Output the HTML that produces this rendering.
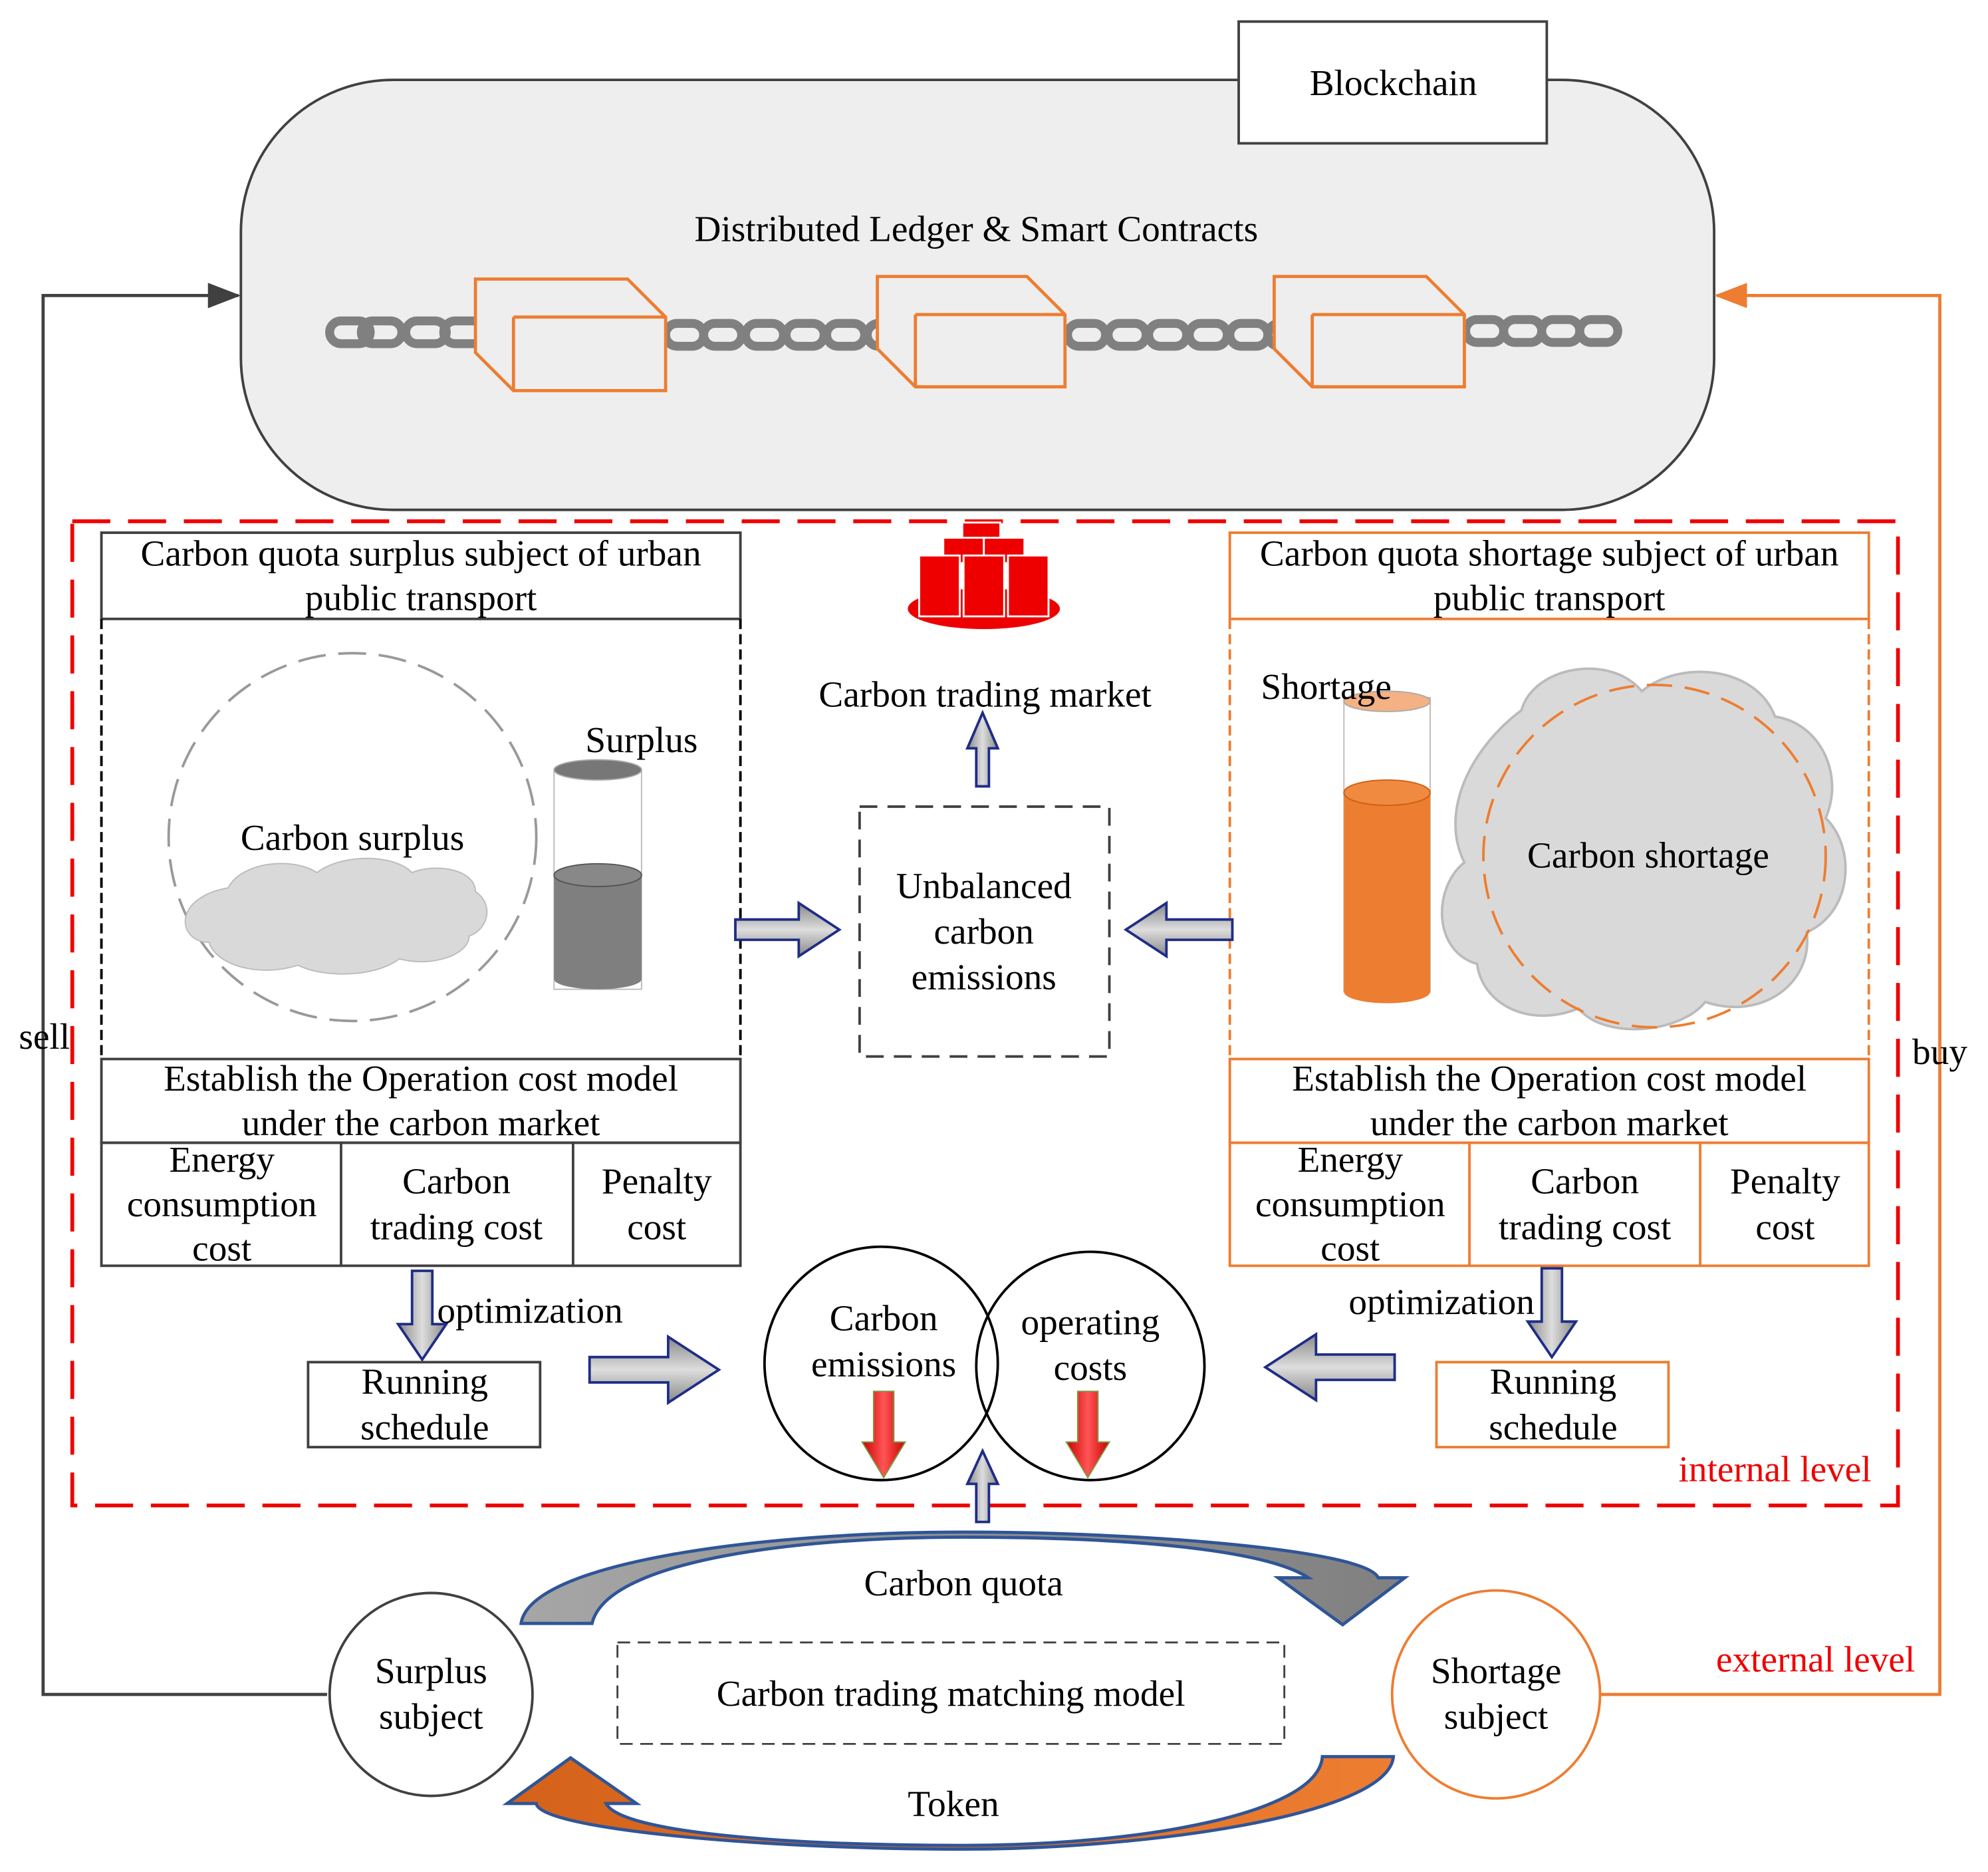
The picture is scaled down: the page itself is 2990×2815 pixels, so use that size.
<!DOCTYPE html>
<html><head><meta charset="utf-8"><style>html,body{margin:0;padding:0;background:#fff}svg{display:block}text{font-family:"Liberation Serif",serif;font-size:29px;fill:#000}</style></head><body>
<svg width="2990" height="2815" viewBox="0 0 1568 1476" preserveAspectRatio="none" xmlns="http://www.w3.org/2000/svg">
<defs>
<linearGradient id="ga" x1="0" x2="1"><stop offset="0" stop-color="#888"/><stop offset="0.5" stop-color="#ddd"/><stop offset="1" stop-color="#888"/></linearGradient>
<linearGradient id="gv" x1="0" x2="0" y1="0" y2="1"><stop offset="0" stop-color="#888"/><stop offset="0.5" stop-color="#ddd"/><stop offset="1" stop-color="#888"/></linearGradient>
<linearGradient id="gr" x1="0" x2="1"><stop offset="0" stop-color="#c00"/><stop offset="0.5" stop-color="#f55"/><stop offset="1" stop-color="#c00"/></linearGradient>
<linearGradient id="gtop" x1="0" x2="1"><stop offset="0" stop-color="#a6a6a6"/><stop offset="1" stop-color="#808080"/></linearGradient>
<linearGradient id="gbot" x1="0" x2="1"><stop offset="0" stop-color="#d5621a"/><stop offset="1" stop-color="#ed7d31"/></linearGradient>
<marker id="mo" markerWidth="26" markerHeight="20" refX="24" refY="10" orient="auto" markerUnits="userSpaceOnUse"><path d="M0,0L26,10L0,20z" fill="#ed7d31"/></marker>
<marker id="mg" markerWidth="26" markerHeight="20" refX="24" refY="10" orient="auto" markerUnits="userSpaceOnUse"><path d="M0,0L26,10L0,20z" fill="#404040"/></marker>
</defs>
<rect x="190" y="63" width="1162" height="339" rx="120" fill="#eee" stroke="#404040" stroke-width="2"/>
<rect x="977" y="17" width="243" height="96" fill="#fff" stroke="#404040" stroke-width="2"/>
<text x="1099" y="75" text-anchor="middle">Blockchain</text>
<text x="770" y="190" text-anchor="middle">Distributed Ledger &amp; Smart Contracts</text>
<g fill="none" stroke="#808080" stroke-width="7">
<rect x="260" y="253" width="32" height="18" rx="9"/><rect x="285" y="253" width="32" height="18" rx="9"/><rect x="320" y="253" width="32" height="18" rx="9"/><rect x="350" y="253" width="32" height="18" rx="9"/>
<rect x="525" y="255" width="30" height="18" rx="9"/><rect x="555" y="255" width="30" height="18" rx="9"/><rect x="588" y="255" width="30" height="18" rx="9"/><rect x="620" y="255" width="30" height="18" rx="9"/><rect x="652" y="255" width="30" height="18" rx="9"/><rect x="684" y="255" width="30" height="18" rx="9"/>
<rect x="842" y="255" width="30" height="18" rx="9"/><rect x="874" y="255" width="30" height="18" rx="9"/><rect x="906" y="255" width="30" height="18" rx="9"/><rect x="938" y="255" width="30" height="18" rx="9"/><rect x="970" y="255" width="30" height="18" rx="9"/><rect x="1000" y="255" width="30" height="18" rx="9"/>
<rect x="1156" y="252" width="30" height="18" rx="9"/><rect x="1186" y="252" width="30" height="18" rx="9"/><rect x="1216" y="252" width="30" height="18" rx="9"/><rect x="1246" y="252" width="30" height="18" rx="9"/>
</g>
<g fill="#eee" stroke="#ed7d31" stroke-width="2.5">
<path d="M375,220H495L525,250V308H405L375,278Z M405,250H525 M405,250V308"/>
<path d="M692,218H810L840,248V305H722L692,275Z M722,248H840 M722,248V305"/>
<path d="M1005,218H1125L1155,248V305H1035L1005,275Z M1035,248H1155 M1035,248V305"/>
</g>
<rect x="57" y="411" width="1440" height="776" fill="none" stroke="#e00" stroke-width="3" stroke-dasharray="30,14"/>
<g stroke="#404040" stroke-width="2" fill="none">
<rect x="80" y="420" width="504" height="68"/>
<rect x="80" y="835" width="504" height="66"/>
<rect x="80" y="901" width="504" height="97"/>
<line x1="269" y1="901" x2="269" y2="998"/><line x1="452" y1="901" x2="452" y2="998"/>
</g>
<path d="M80,488V835M584,488V835" stroke="#000" stroke-width="2" stroke-dasharray="8,4"/>
<text x="332" y="446" text-anchor="middle">Carbon quota surplus subject of urban</text>
<text x="332" y="481" text-anchor="middle">public transport</text>
<circle cx="278" cy="660" r="145" fill="none" stroke="#999" stroke-width="2" stroke-dasharray="22,10"/>
<path d="M180,700c10-20 50-25 70-12c20-15 60-15 75,0c20-8 50-2 50,15c15,10 10,30 -5,35c0,15-30,25-55,18c-20,15-60,15-80,5c-30,10-65,0-70-18c-25,0-30-35 15-43z" fill="#d9d9d9" stroke="#bbb"/>
<text x="278" y="670" text-anchor="middle">Carbon surplus</text>
<text x="506" y="593" text-anchor="middle">Surplus</text>
<rect x="437" y="607" width="69" height="173" fill="#fff" stroke="#bbb"/>
<path d="M437,690V772a34.5,8 0 0 0 69,0V690z" fill="#7f7f7f"/>
<ellipse cx="471.5" cy="690" rx="34.5" ry="9" fill="#888" stroke="#555"/>
<ellipse cx="471.5" cy="607" rx="34.5" ry="8" fill="#777" stroke="#aaa"/>
<text x="332" y="860" text-anchor="middle">Establish the Operation cost model</text>
<text x="332" y="895" text-anchor="middle">under the carbon market</text>
<text x="175" y="924" text-anchor="middle">Energy</text><text x="175" y="959" text-anchor="middle">consumption</text><text x="175" y="994" text-anchor="middle">cost</text>
<text x="360" y="941" text-anchor="middle">Carbon</text><text x="360" y="977" text-anchor="middle">trading cost</text>
<text x="518" y="941" text-anchor="middle">Penalty</text><text x="518" y="977" text-anchor="middle">cost</text>
<g stroke="#ed7d31" stroke-width="2" fill="none">
<rect x="970" y="420" width="504" height="68"/>
<rect x="970" y="835" width="504" height="66"/>
<rect x="970" y="901" width="504" height="97"/>
<line x1="1159" y1="901" x2="1159" y2="998"/><line x1="1341" y1="901" x2="1341" y2="998"/>
<path d="M970,488V835M1474,488V835" stroke-dasharray="8,4"/>
</g>
<text x="1222" y="446" text-anchor="middle">Carbon quota shortage subject of urban</text>
<text x="1222" y="481" text-anchor="middle">public transport</text>
<path d="M1200,560c10-35 70-45 95-15c30-25 90-20 105,20c35,5 55,45 40,80c25,25 20,75-15,90c5,40-35,70-80,55c-20,25-80,30-100,5c-35,15-75,0-80-35c-35-10-35-60-10-80c-20-40 5-90 45-120z" fill="#d9d9d9" stroke="#bbb" stroke-width="2"/>
<circle cx="1305" cy="675" r="135" fill="none" stroke="#ed7d31" stroke-width="2" stroke-dasharray="20,10"/>
<text x="1300" y="684" text-anchor="middle">Carbon shortage</text>
<rect x="1060" y="550" width="68" height="232" fill="#fff" stroke="#bbb"/>
<path d="M1060,625V782a34,9 0 0 0 68,0V625z" fill="#ed7d31"/>
<ellipse cx="1094" cy="625" rx="34" ry="10" fill="#f08a40" stroke="#d06010"/>
<ellipse cx="1094" cy="553" rx="34" ry="8" fill="#f4b183" stroke="#aaa"/>
<text x="1046" y="551" text-anchor="middle">Shortage</text>
<text x="1222" y="860" text-anchor="middle">Establish the Operation cost model</text>
<text x="1222" y="895" text-anchor="middle">under the carbon market</text>
<text x="1065" y="924" text-anchor="middle">Energy</text><text x="1065" y="959" text-anchor="middle">consumption</text><text x="1065" y="994" text-anchor="middle">cost</text>
<text x="1250" y="941" text-anchor="middle">Carbon</text><text x="1250" y="977" text-anchor="middle">trading cost</text>
<text x="1408" y="941" text-anchor="middle">Penalty</text><text x="1408" y="977" text-anchor="middle">cost</text>
<ellipse cx="776" cy="480" rx="60" ry="16" fill="#e00"/>
<g fill="#e00" stroke="#fff" stroke-width="1.5"><rect x="759" y="412" width="30" height="18"/><rect x="744" y="424" width="32" height="20"/><rect x="776" y="424" width="32" height="20"/><rect x="725" y="438" width="32" height="48"/><rect x="760" y="438" width="32" height="48"/><rect x="795" y="438" width="32" height="48"/></g>
<text x="777" y="557" text-anchor="middle">Carbon trading market</text>
<rect x="678" y="636" width="197" height="197" fill="none" stroke="#404040" stroke-width="2" stroke-dasharray="14,8"/>
<text x="776" y="708" text-anchor="middle">Unbalanced</text><text x="776" y="744" text-anchor="middle">carbon</text><text x="776" y="780" text-anchor="middle">emissions</text>
<g stroke="#1f2d86" stroke-width="2">
<path d="M770,620V590H763L775,562L787,590H780V620Z" fill="url(#ga)"/>
<path d="M580,725H630V712L662,733L630,754V741H580Z" fill="url(#gv)"/>
<path d="M972,725H920V712L888,733L920,754V741H972Z" fill="url(#gv)"/>
<path d="M325,1002H341V1044H352L333,1072L314,1044H325Z" fill="url(#ga)"/>
<path d="M1216,1000H1232V1042H1243L1224,1070L1205,1042H1216Z" fill="url(#ga)"/>
<path d="M465,1070H527V1054L567,1080L527,1106V1090H465Z" fill="url(#gv)"/>
<path d="M1100,1068H1038V1052L998,1078L1038,1104V1088H1100Z" fill="url(#gv)"/>
<path d="M770,1200V1170H763L775,1144L787,1170H780V1200Z" fill="url(#ga)"/>
</g>
<text x="418" y="1043" text-anchor="middle">optimization</text>
<text x="1137" y="1036" text-anchor="middle">optimization</text>
<rect x="243" y="1074" width="183" height="67" fill="none" stroke="#404040" stroke-width="2"/>
<text x="335" y="1099" text-anchor="middle">Running</text><text x="335" y="1135" text-anchor="middle">schedule</text>
<rect x="1133" y="1074" width="183" height="67" fill="none" stroke="#ed7d31" stroke-width="2"/>
<text x="1225" y="1099" text-anchor="middle">Running</text><text x="1225" y="1135" text-anchor="middle">schedule</text>
<circle cx="695" cy="1075" r="92" fill="none" stroke="#000" stroke-width="2"/>
<circle cx="860" cy="1077" r="90" fill="none" stroke="#000" stroke-width="2"/>
<text x="697" y="1049" text-anchor="middle">Carbon</text><text x="697" y="1085" text-anchor="middle">emissions</text>
<text x="860" y="1052" text-anchor="middle">operating</text><text x="860" y="1088" text-anchor="middle">costs</text>
<path d="M689,1097H705V1137H714L697,1165L680,1137H689Z" fill="url(#gr)" stroke="#7a9a40"/>
<path d="M850,1097H866V1137H875L858,1165L841,1137H850Z" fill="url(#gr)" stroke="#7a9a40"/>
<text x="1400" y="1168" text-anchor="middle" style="fill:#e00">internal level</text>
<path d="M258,1336H34V233H188" fill="none" stroke="#404040" stroke-width="2.5" marker-end="url(#mg)"/>
<path d="M1262,1336H1530V233H1354" fill="none" stroke="#ed7d31" stroke-width="2.5" marker-end="url(#mo)"/>
<text x="35" y="827" text-anchor="middle">sell</text>
<text x="1530" y="839" text-anchor="middle">buy</text>
<text x="1432" y="1318" text-anchor="middle" style="fill:#e00">external level</text>
<circle cx="340" cy="1336" r="80" fill="#fff" stroke="#404040" stroke-width="2"/>
<text x="340" y="1327" text-anchor="middle">Surplus</text><text x="340" y="1363" text-anchor="middle">subject</text>
<circle cx="1180" cy="1336" r="82" fill="#fff" stroke="#ed7d31" stroke-width="2"/>
<text x="1180" y="1327" text-anchor="middle">Shortage</text><text x="1180" y="1363" text-anchor="middle">subject</text>
<rect x="487" y="1295" width="526" height="80" fill="none" stroke="#404040" stroke-width="1.5" stroke-dasharray="10,6"/>
<text x="750" y="1345" text-anchor="middle">Carbon trading matching model</text>
<path d="M411,1280C418,1232 600,1208 760,1208C900,1208 1078,1222 1087,1244L1108,1244L1059,1281L1008,1244L1032,1244C1000,1223 900,1212 760,1212C620,1212 478,1232 467,1280Z" fill="url(#gtop)" stroke="#2f5597" stroke-width="2.5"/>
<path d="M1099,1385C1095,1432 900,1458 760,1458C600,1458 425,1442 423,1422L400,1422L450,1386L502,1422L478,1422C490,1445 620,1455 760,1455C900,1455 1040,1430 1043,1385Z" fill="url(#gbot)" stroke="#2f5597" stroke-width="2.5"/>
<text x="760" y="1258" text-anchor="middle">Carbon quota</text>
<text x="752" y="1432" text-anchor="middle">Token</text>
</svg>
</body></html>
